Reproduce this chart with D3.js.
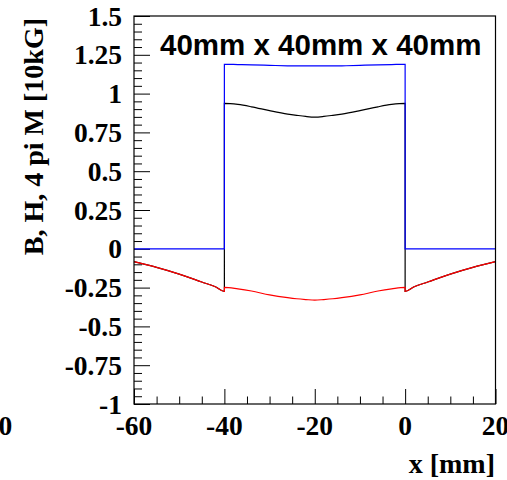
<!DOCTYPE html>
<html>
<head>
<meta charset="utf-8">
<script src="https://cdn.jsdelivr.net/npm/d3@7"></script>
<style>
  body { margin: 0; background: #fff; }
  .TickLabel { font-family: "Liberation Serif", serif; font-weight: bold; font-size: 27.5px; }
  .AxisTitle { font-family: "Liberation Serif", serif; font-weight: bold; font-size: 28px; }
  .ChartTitle { font-family: "Liberation Sans", Arial, sans-serif; font-weight: bold; font-size: 29.5px; }
</style>
</head>
<body>
<div id="ChartContainer"></div>
<script>
// positions along the cube axis [mm]; -40 and 0 repeated for the jumps
var xValues = [-60, -55, -50, -45, -42, -40, -40, -37, -34, -30, -26, -24, -22, -20,
  -18, -16, -14, -10, -6, -3, 0, 0, 2, 5, 10, 15, 20]
// H field
var hValues = [-0.083, -0.12, -0.163, -0.214, -0.245, -0.275, -0.248, -0.258, -0.272,
  -0.297, -0.315, -0.322, -0.327, -0.331, -0.327, -0.322, -0.315, -0.297, -0.272,
  -0.258, -0.248, -0.275, -0.245, -0.214, -0.163, -0.12, -0.083]
// 4 pi M
var mValues = [0, 0, 0, 0, 0, 0, 1.189, 1.187, 1.185, 1.182, 1.179, 1.178, 1.178, 1.178,
  1.178, 1.178, 1.179, 1.182, 1.185, 1.187, 1.189, 0, 0, 0, 0, 0, 0]
// B field
var bValues = [-0.083, -0.12, -0.163, -0.214, -0.245, -0.275, 0.937, 0.93, 0.915,
  0.89, 0.868, 0.86, 0.853, 0.849, 0.853, 0.86, 0.868, 0.89, 0.915, 0.93, 0.937,
  -0.275, -0.245, -0.214, -0.163, -0.12, -0.083]

var xTicks = [-60, -40, -20, 0, 20]
var yTicks = [1.5, 1.25, 1, 0.75, 0.5, 0.25, 0, -0.25, -0.5, -0.75, -1]
var yTickLabels = ["1.5", "1.25", "1", "0.75", "0.5", "0.25", "0", "-0.25", "-0.5", "-0.75", "-1"]

var fullWidth = 507
var fullHeight = 480
var frame = { left: 134, right: 495.5, top: 16, bottom: 404 }

var svg = d3.select("#ChartContainer").append("svg")
  .attr("width", fullWidth)
  .attr("height", fullHeight)

var x = d3.scaleLinear().domain([-60, 20]).range([frame.left, frame.right])
var y = d3.scaleLinear().domain([-1, 1.5]).range([frame.bottom, frame.top])

// x axis: ticks point up into the frame
var xAxis = d3.axisTop(x)
  .tickValues(d3.range(-60, 20.01, 5))
  .tickFormat("")
  .tickSizeOuter(0)
svg.append("g")
  .attr("transform", `translate(0,${frame.bottom})`)
  .call(xAxis)
  .call(g => g.select(".domain").remove())
  .call(g => g.selectAll(".tick line")
    .attr("y2", d => xTicks.indexOf(Math.round(d)) >= 0 ? -15 : -7.5)
    .attr("stroke", "#000"))

// y axis: ticks point right into the frame
var yAxis = d3.axisRight(y)
  .tickValues(d3.range(-1, 1.5001, 0.05))
  .tickFormat("")
  .tickSizeOuter(0)
svg.append("g")
  .attr("transform", `translate(${frame.left},0)`)
  .call(yAxis)
  .call(g => g.select(".domain").remove())
  .call(g => g.selectAll(".tick line")
    .attr("x2", d => Math.abs(d * 4 - Math.round(d * 4)) < 1e-6 ? 16 : 8)
    .attr("stroke", "#000"))

svg.append("g").selectAll("text")
  .data(xTicks)
  .enter().append("text")
  .attr("class", "TickLabel")
  .attr("x", d => x(d))
  .attr("y", frame.bottom + 31)
  .attr("text-anchor", "middle")
  .text(d => d)

svg.append("g").selectAll("text")
  .data(yTicks)
  .enter().append("text")
  .attr("class", "TickLabel")
  .attr("x", 122)
  .attr("y", d => y(d) + 9.5)
  .attr("text-anchor", "end")
  .text((d, i) => yTickLabels[i])

// stray label from the neighbouring pad
svg.append("text")
  .attr("class", "TickLabel")
  .attr("x", -1.5)
  .attr("y", frame.bottom + 31)
  .text("0")

var line = vals => d3.line()
  .curve(d3.curveMonotoneX)
  .x((d, i) => x(d))
  .y((d, i) => y(vals[i]))(xValues)

svg.append("path")
  .attr("d", line(bValues))
  .attr("fill", "none")
  .attr("stroke", "#000")
  .attr("stroke-width", 1.2)

svg.append("path")
  .attr("d", line(mValues))
  .attr("fill", "none")
  .attr("stroke", "#0000ff")
  .attr("stroke-width", 1.2)

svg.append("path")
  .attr("d", line(hValues))
  .attr("fill", "none")
  .attr("stroke", "#ff0000")
  .attr("stroke-width", 1.2)

// frame
svg.append("rect")
  .attr("x", frame.left)
  .attr("y", frame.top)
  .attr("width", frame.right - frame.left)
  .attr("height", frame.bottom - frame.top)
  .attr("fill", "none")
  .attr("stroke", "#000")
  .attr("stroke-width", 1.2)

// titles
svg.append("text")
  .attr("class", "ChartTitle")
  .attr("x", 160)
  .attr("y", 55)
  .text("40mm x 40mm x 40mm")

svg.append("text")
  .attr("class", "AxisTitle")
  .attr("x", 495)
  .attr("y", 473)
  .attr("text-anchor", "end")
  .text("x [mm]")

svg.append("text")
  .attr("class", "AxisTitle")
  .attr("transform", "rotate(-90)")
  .attr("x", -18)
  .attr("y", 43)
  .attr("text-anchor", "end")
  .text("B, H, 4 pi M [10kG]")
</script>
</body>
</html>
